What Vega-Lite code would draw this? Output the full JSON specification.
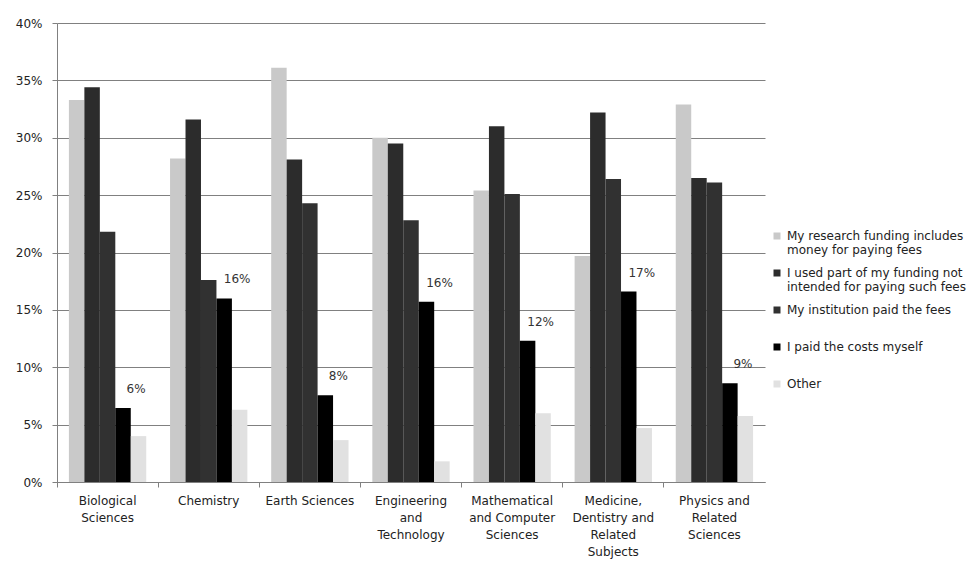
{
  "$schema": "https://vega.github.io/schema/vega-lite/v6.json",
  "autosize": "none",
  "padding": {"left": 57, "top": 23, "right": 209, "bottom": 79},
  "width": 708,
  "height": 459,
  "background": "white",
  "config": {
    "font": "DejaVu Sans",
    "view": {"stroke": null}
  },
  "data": {
    "values": [
      {"category": "Biological Sciences", "series": "My research funding includes money for paying fees", "value": 0.333},
      {"category": "Biological Sciences", "series": "I used part of my funding not intended for paying such fees", "value": 0.344},
      {"category": "Biological Sciences", "series": "My institution paid the fees", "value": 0.218},
      {"category": "Biological Sciences", "series": "I paid the costs myself", "value": 0.0645},
      {"category": "Biological Sciences", "series": "Other", "value": 0.040},
      {"category": "Chemistry", "series": "My research funding includes money for paying fees", "value": 0.282},
      {"category": "Chemistry", "series": "I used part of my funding not intended for paying such fees", "value": 0.316},
      {"category": "Chemistry", "series": "My institution paid the fees", "value": 0.176},
      {"category": "Chemistry", "series": "I paid the costs myself", "value": 0.160},
      {"category": "Chemistry", "series": "Other", "value": 0.063},
      {"category": "Earth Sciences", "series": "My research funding includes money for paying fees", "value": 0.361},
      {"category": "Earth Sciences", "series": "I used part of my funding not intended for paying such fees", "value": 0.281},
      {"category": "Earth Sciences", "series": "My institution paid the fees", "value": 0.243},
      {"category": "Earth Sciences", "series": "I paid the costs myself", "value": 0.0755},
      {"category": "Earth Sciences", "series": "Other", "value": 0.0365},
      {"category": "Engineering and Technology", "series": "My research funding includes money for paying fees", "value": 0.300},
      {"category": "Engineering and Technology", "series": "I used part of my funding not intended for paying such fees", "value": 0.295},
      {"category": "Engineering and Technology", "series": "My institution paid the fees", "value": 0.228},
      {"category": "Engineering and Technology", "series": "I paid the costs myself", "value": 0.157},
      {"category": "Engineering and Technology", "series": "Other", "value": 0.018},
      {"category": "Mathematical and Computer Sciences", "series": "My research funding includes money for paying fees", "value": 0.254},
      {"category": "Mathematical and Computer Sciences", "series": "I used part of my funding not intended for paying such fees", "value": 0.310},
      {"category": "Mathematical and Computer Sciences", "series": "My institution paid the fees", "value": 0.251},
      {"category": "Mathematical and Computer Sciences", "series": "I paid the costs myself", "value": 0.123},
      {"category": "Mathematical and Computer Sciences", "series": "Other", "value": 0.060},
      {"category": "Medicine, Dentistry and Related Subjects", "series": "My research funding includes money for paying fees", "value": 0.197},
      {"category": "Medicine, Dentistry and Related Subjects", "series": "I used part of my funding not intended for paying such fees", "value": 0.322},
      {"category": "Medicine, Dentistry and Related Subjects", "series": "My institution paid the fees", "value": 0.264},
      {"category": "Medicine, Dentistry and Related Subjects", "series": "I paid the costs myself", "value": 0.166},
      {"category": "Medicine, Dentistry and Related Subjects", "series": "Other", "value": 0.047},
      {"category": "Physics and Related Sciences", "series": "My research funding includes money for paying fees", "value": 0.329},
      {"category": "Physics and Related Sciences", "series": "I used part of my funding not intended for paying such fees", "value": 0.265},
      {"category": "Physics and Related Sciences", "series": "My institution paid the fees", "value": 0.261},
      {"category": "Physics and Related Sciences", "series": "I paid the costs myself", "value": 0.086},
      {"category": "Physics and Related Sciences", "series": "Other", "value": 0.0575}
    ]
  },
  "encoding": {
    "x": {
      "field": "category",
      "type": "nominal",
      "sort": null,
      "scale": {"paddingInner": 0, "paddingOuter": 0},
      "axis": {
        "title": null,
        "labelAngle": 0,
        "bandPosition": 0,
        "domainColor": "#808080",
        "tickColor": "#808080",
        "tickSize": 5,
        "labelPadding": 8,
        "labelFont": "DejaVu Sans",
        "labelFontSize": 12,
        "labelColor": "#222222",
        "labelLineHeight": 17,
        "labelBaseline": "top",
        "labelExpr": "datum.value == 'Biological Sciences' ? ['Biological', 'Sciences'] : datum.value == 'Engineering and Technology' ? ['Engineering', 'and', 'Technology'] : datum.value == 'Mathematical and Computer Sciences' ? ['Mathematical', 'and Computer', 'Sciences'] : datum.value == 'Medicine, Dentistry and Related Subjects' ? ['Medicine,', 'Dentistry and', 'Related', 'Subjects'] : datum.value == 'Physics and Related Sciences' ? ['Physics and', 'Related', 'Sciences'] : datum.value"
      }
    },
    "xOffset": {
      "field": "series",
      "type": "nominal",
      "scale": {
        "domain": ["My research funding includes money for paying fees", "I used part of my funding not intended for paying such fees", "My institution paid the fees", "I paid the costs myself", "Other"],
        "paddingInner": 0,
        "paddingOuter": 0.77
      }
    },
    "y": {
      "field": "value",
      "type": "quantitative",
      "scale": {"domain": [0, 0.4], "nice": false},
      "axis": {
        "title": null,
        "values": [0, 0.05, 0.1, 0.15, 0.2, 0.25, 0.3, 0.35, 0.4],
        "format": ".0%",
        "grid": true,
        "gridColor": "#808080",
        "gridWidth": 1,
        "domainColor": "#808080",
        "tickColor": "#808080",
        "tickSize": 5,
        "labelPadding": 10,
        "labelFont": "DejaVu Sans",
        "labelFontSize": 12,
        "labelColor": "#222222"
      }
    }
  },
  "layer": [
    {
      "mark": {"type": "bar", "stroke": null},
      "encoding": {
        "color": {
          "field": "series",
          "type": "nominal",
          "scale": {
            "domain": ["My research funding includes money for paying fees", "I used part of my funding not intended for paying such fees", "My institution paid the fees", "I paid the costs myself", "Other"],
            "range": ["#c9c9c9", "#2c2c2c", "#313131", "#000000", "#e1e1e1"]
          },
          "legend": {
            "title": null,
            "orient": "none",
            "legendX": 714,
            "legendY": 207,
            "symbolType": "square",
            "symbolSize": 49,
            "symbolStrokeWidth": 0,
            "labelFont": "DejaVu Sans",
            "labelFontSize": 12,
            "labelColor": "#222222",
            "labelLimit": 300,
            "labelOffset": 4,
            "labelBaseline": "middle",
            "labelLineHeight": 16,
            "rowPadding": 11,
            "labelExpr": "datum.label == 'My research funding includes money for paying fees' ? ['My research funding  includes', ' money for paying fees'] : datum.label == 'I used part of my funding not intended for paying such fees' ? ['I used part of my funding not', ' intended for paying such fees'] : [datum.label, ' ']"
          }
        }
      }
    },
    {
      "transform": [{"filter": "datum.series == 'I paid the costs myself'"}],
      "mark": {"type": "text", "dx": 13, "dy": -19, "baseline": "middle", "align": "center", "font": "DejaVu Sans", "fontSize": 12, "color": "#333333"},
      "encoding": {
        "text": {"field": "value", "type": "quantitative", "format": ".0%"}
      }
    }
  ]
}
